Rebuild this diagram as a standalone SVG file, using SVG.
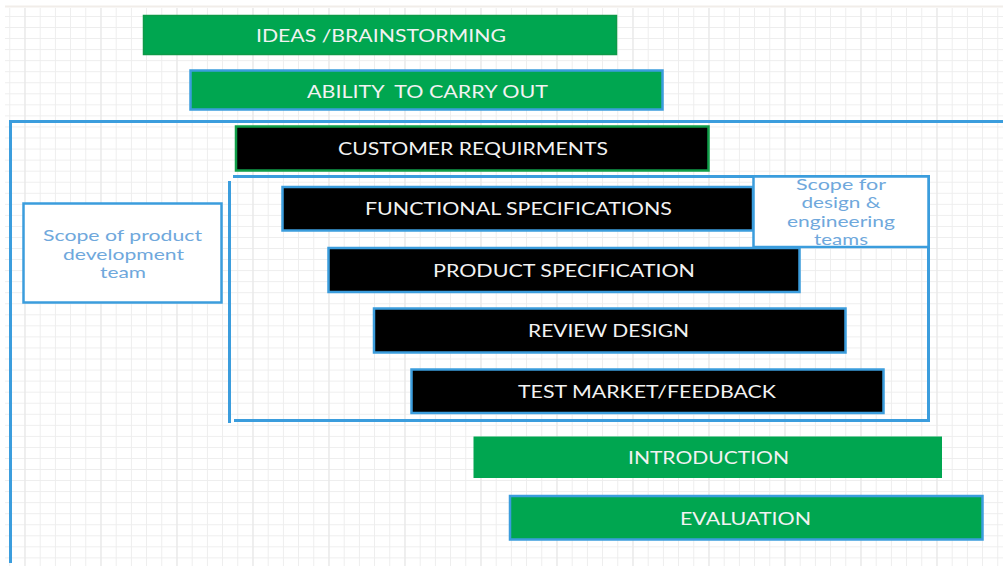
<svg xmlns="http://www.w3.org/2000/svg" width="1003" height="566" viewBox="0 0 1003 566">
<defs>
<pattern id="grid" x="9.3" y="16" width="15.2" height="11.05" patternUnits="userSpaceOnUse">
<path d="M0.5 0V11.05M0 0.5H15.2" stroke="#ededed" stroke-width="1" fill="none"/>
</pattern>
<pattern id="major" x="24.5" y="16" width="76" height="55.25" patternUnits="userSpaceOnUse">
<path d="M0.5 0V55.25" stroke="#e6e6e6" stroke-width="1" fill="none"/>
</pattern>
<style>
.green{fill:#00a650;}
.greenb{fill:#00a650;stroke:#0d9a48;stroke-width:1.5;}
.greenblue{fill:#00a650;stroke:#3b9ddd;stroke-width:2.5;}
.black{fill:#000;stroke:#3b9ddd;stroke-width:2.5;}
.blackg{fill:#000;stroke:#0f9d48;stroke-width:2.5;}
.frame{fill:none;stroke:#3b9ddd;stroke-width:3;}
.scope{fill:#fff;stroke:#3b9ddd;stroke-width:2.5;}
.lbl{font-family:Lato,"Liberation Sans",sans-serif;font-size:16.5px;fill:#f2f2f2;white-space:pre;}
.st{font-family:Lato,"Liberation Sans",sans-serif;font-size:16px;fill:#6fa8dc;text-anchor:middle;}
</style>
</defs>
<rect width="1003" height="566" fill="#fff"/>
<rect x="5" y="8" width="998" height="558" fill="url(#grid)"/>
<rect x="5" y="8" width="998" height="558" fill="url(#major)"/>
<line x1="5" y1="6.5" x2="1003" y2="6.5" stroke="#f1ede9" stroke-width="2"/>

<g id="connectors">
<path class="frame" d="M10.5 563V121.5H1003"/>
<path class="frame" d="M229.5 181V423"/>
<path class="frame" d="M233 176.5H928.5V420.5H234"/>
</g>

<g id="ideas">
<rect class="greenb" x="143.5" y="15.5" width="473" height="39"/>
<text class="lbl" x="256" y="42" textLength="250" lengthAdjust="spacingAndGlyphs">IDEAS /BRAINSTORMING</text>
</g>
<g id="ability">
<rect class="greenblue" x="190.5" y="70.5" width="472" height="39"/>
<text class="lbl" x="307" y="97.5" textLength="241" lengthAdjust="spacingAndGlyphs">ABILITY  TO CARRY OUT</text>
</g>
<g id="customer">
<rect class="blackg" x="236" y="126.5" width="472.5" height="44"/>
<text class="lbl" x="338" y="155" textLength="270" lengthAdjust="spacingAndGlyphs">CUSTOMER REQUIRMENTS</text>
</g>
<g id="functional">
<rect class="black" x="282.5" y="187" width="470.5" height="43.5"/>
<text class="lbl" x="365" y="215" textLength="307" lengthAdjust="spacingAndGlyphs">FUNCTIONAL SPECIFICATIONS</text>
</g>
<g id="scope-design">
<rect class="scope" x="753.5" y="176.5" width="175" height="70.5"/>
<text class="st" x="841" y="189.5" textLength="90" lengthAdjust="spacingAndGlyphs">Scope for</text>
<text class="st" x="841" y="208.3" textLength="79" lengthAdjust="spacingAndGlyphs">design &amp;</text>
<text class="st" x="841" y="226.7" textLength="108" lengthAdjust="spacingAndGlyphs">engineering</text>
<text class="st" x="841" y="245" textLength="54" lengthAdjust="spacingAndGlyphs">teams</text>
</g>
<g id="product">
<rect class="black" x="328.5" y="248" width="471" height="44"/>
<text class="lbl" x="433" y="276.5" textLength="262" lengthAdjust="spacingAndGlyphs">PRODUCT SPECIFICATION</text>
</g>
<g id="review">
<rect class="black" x="374" y="308.5" width="471.5" height="44"/>
<text class="lbl" x="528" y="337" textLength="161" lengthAdjust="spacingAndGlyphs">REVIEW DESIGN</text>
</g>
<g id="test">
<rect class="black" x="411.5" y="369.5" width="472" height="43.5"/>
<text class="lbl" x="518" y="398" textLength="258" lengthAdjust="spacingAndGlyphs">TEST MARKET/FEEDBACK</text>
</g>
<g id="scope-product">
<rect class="scope" x="23.5" y="203.5" width="198" height="99"/>
<text class="st" x="122.5" y="241" textLength="159" lengthAdjust="spacingAndGlyphs">Scope of product</text>
<text class="st" x="123.5" y="259.5" textLength="121" lengthAdjust="spacingAndGlyphs">development</text>
<text class="st" x="123" y="277.5" textLength="46" lengthAdjust="spacingAndGlyphs">team</text>
</g>
<g id="introduction">
<rect class="green" x="473.5" y="436.5" width="468.5" height="41.5"/>
<text class="lbl" x="628" y="464" textLength="161" lengthAdjust="spacingAndGlyphs">INTRODUCTION</text>
</g>
<g id="evaluation">
<rect class="greenblue" x="510" y="496" width="472.5" height="43.5"/>
<text class="lbl" x="680" y="525" textLength="131" lengthAdjust="spacingAndGlyphs">EVALUATION</text>
</g>
</svg>
